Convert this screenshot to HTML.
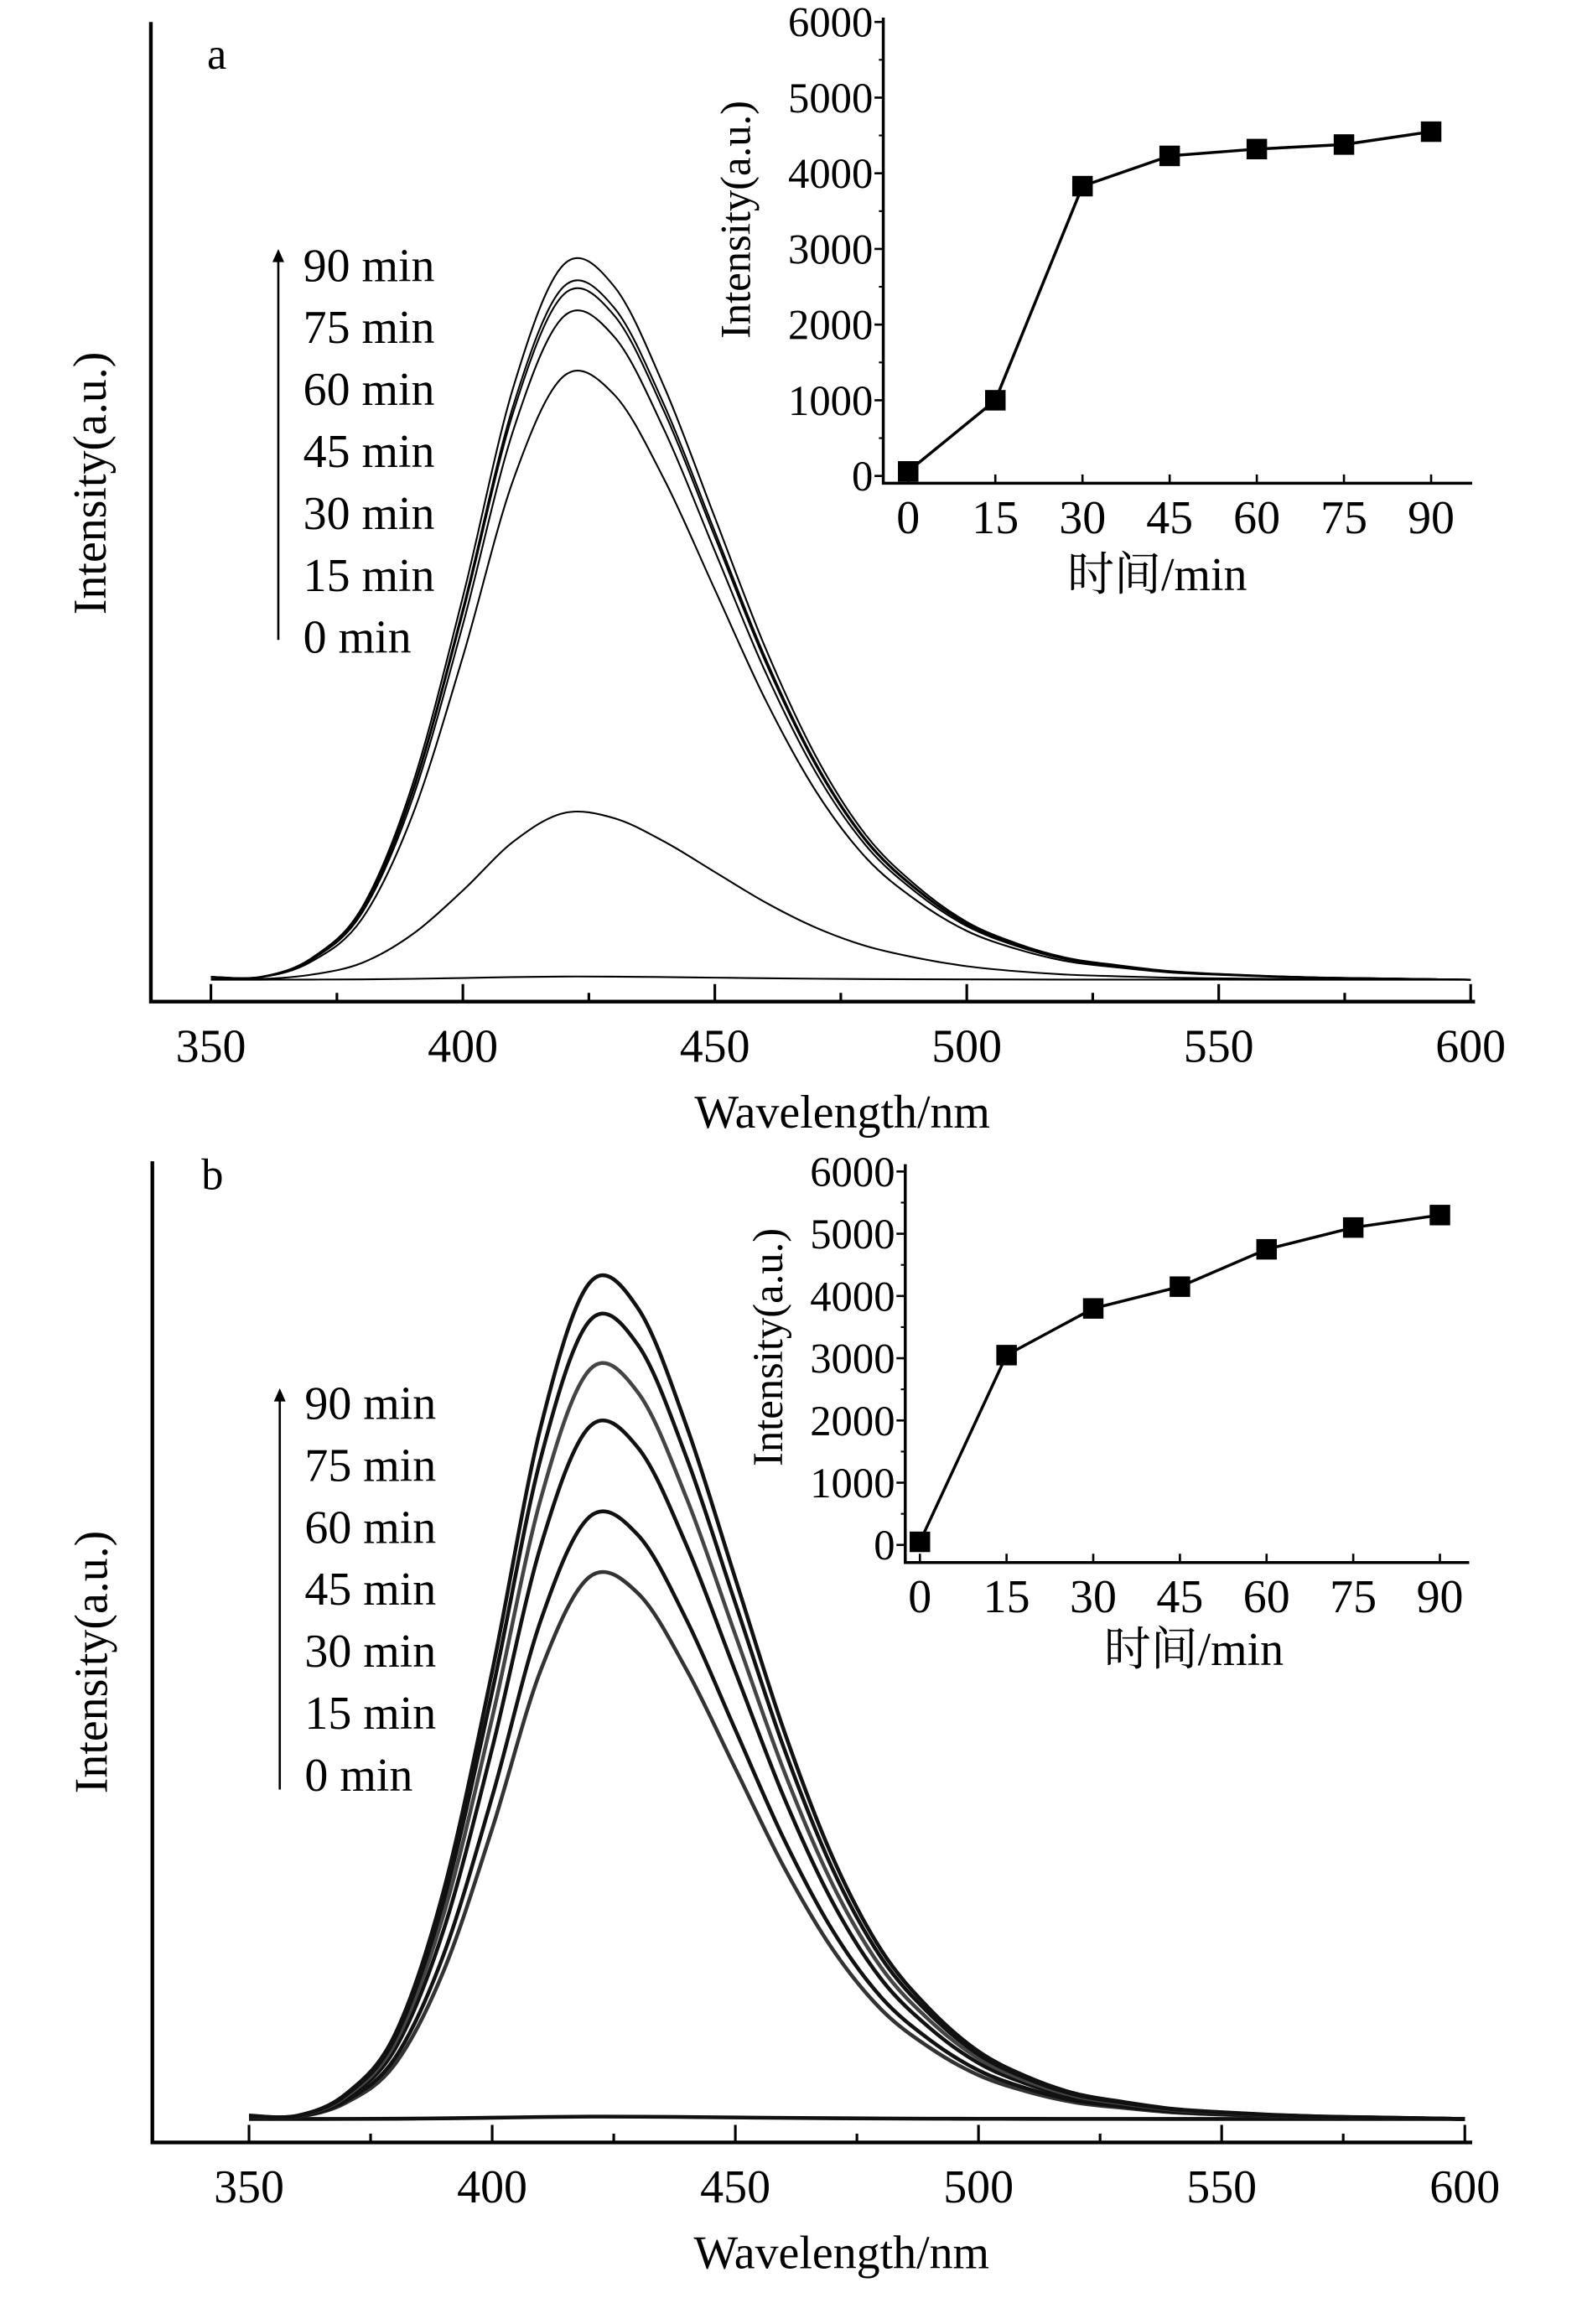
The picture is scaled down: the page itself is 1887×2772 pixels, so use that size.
<!DOCTYPE html>
<html><head><meta charset="utf-8"><style>
html,body{margin:0;padding:0;background:#fff;}
svg{display:block;}
text{font-family:"Liberation Serif","Noto Serif CJK SC","Noto Sans CJK SC",serif;fill:#000;}
</style></head><body>
<svg id="fig" width="1887" height="2772" viewBox="0 0 1080 1587" preserveAspectRatio="none" xmlns="http://www.w3.org/2000/svg"></svg>
<script>
// ---- data ----
const wavelengths = [350,360,370,380,390,400,410,420,430,440,450,460,470,480,490,500,510,520,530,540,550,560,570,580,590,600];
const profile = [0.004,0.004,0.03,0.10,0.27,0.53,0.82,0.99,0.96,0.82,0.64,0.46,0.31,0.20,0.13,0.08,0.05,0.03,0.02,0.012,0.008,0.005,0.003,0.002,0.001,0.0];
const times = [0,15,30,45,60,75,90];
const timeLabels = ["90 min","75 min","60 min","45 min","30 min","15 min","0 min"];
const peaksA = [20,1060,3840,4220,4360,4410,4550];
const peaksB = [15,3430,3810,4380,4740,5050,5290];
const insetA = [60,1000,3830,4230,4320,4380,4550];
const insetB = [50,3050,3800,4150,4750,5100,5300];
const insetYTicks = [0,1000,2000,3000,4000,5000,6000];
const wlTicks = [350,400,450,500,550,600];

const svg = document.getElementById('fig');
const NS = 'http://www.w3.org/2000/svg';
function mk(tag, attrs, parent){const e=document.createElementNS(NS,tag);for(const k in attrs)e.setAttribute(k,attrs[k]);(parent||svg).appendChild(e);return e;}
function txt(s,x,y,size,anchor,parent){const t=mk('text',{x:x,y:y,'font-size':size,'text-anchor':anchor||'middle'},parent);t.textContent=s;return t;}
function smooth(pts){let d='M'+pts[0][0]+','+pts[0][1];for(let i=0;i<pts.length-1;i++){const p0=pts[Math.max(0,i-1)],p1=pts[i],p2=pts[i+1],p3=pts[Math.min(pts.length-1,i+2)];d+=' C'+(p1[0]+(p2[0]-p0[0])/6)+','+(p1[1]+(p2[1]-p0[1])/6)+' '+(p2[0]-(p3[0]-p1[0])/6)+','+(p2[1]-(p3[1]-p1[1])/6)+' '+p2[0]+','+p2[1];}return d;}

function mainPanel(cfg){
  const g=mk('g',{});
  
  
  const X=w=>cfg.x0+(w-350)*(cfg.x1-cfg.x0)/250;
  const Y=v=>cfg.base-v*cfg.k;
  const ax=mk('path',{d:`M${cfg.ax} ${cfg.top} V${cfg.axy} H${cfg.axr}`,stroke:'#000','stroke-width':2.5,fill:'none'},g);
  
  for(let w=350;w<=600;w+=25){const major=w%50===0;mk('line',{x1:X(w),x2:X(w),y1:cfg.axy,y2:cfg.axy-(major?12:6),stroke:'#000','stroke-width':1.8},g);}
  wlTicks.forEach(w=>{const t=txt(w,X(w),cfg.axy+41,32,'middle',g);});
  const xt=txt('Wavelength/nm',(cfg.ax+cfg.axr)/2+20,cfg.axy+86,32,'middle',g);
  
  const yt=txt('Intensity(a.u.)',0,0,32,'middle',g);yt.setAttribute('transform',`translate(${cfg.ax-31},${cfg.ylabY}) rotate(-90)`);
  
  const pl=txt(cfg.letter,cfg.letX,cfg.letY,30,'middle',g);
  cfg.peaks.forEach((p,i)=>{
    const pts=wavelengths.map((w,j)=>[X(w),Y(p*profile[j]+cfg.floor)]);
    const path=mk('path',{d:smooth(pts),fill:'none',stroke:cfg.colors[i],'stroke-width':cfg.sw},g);
    
    
  });
  const ar=mk('line',{x1:cfg.arX,x2:cfg.arX,y1:cfg.arB,y2:cfg.arT+8,stroke:'#000','stroke-width':1.5},g);
  
  mk('path',{d:`M${cfg.arX-4} ${cfg.arT+9} L${cfg.arX} ${cfg.arT} L${cfg.arX+4} ${cfg.arT+9}Z`,fill:'#000'},g);
  timeLabels.forEach((s,i)=>{const t=txt(s,cfg.arX+17,cfg.labY0+i*42.3,32,'start',g);});
}

function inset(cfg){
  const g=mk('g',{});
  
  
  const X=t=>cfg.x0+t*(cfg.x90-cfg.x0)/90;
  const Y=v=>cfg.y0-v*(cfg.y0-cfg.y6000)/6000;
  const ax=mk('path',{d:`M${cfg.ax} ${cfg.top} V${cfg.axy} H${cfg.axr}`,stroke:'#000','stroke-width':2,fill:'none'},g);
  
  insetYTicks.forEach(v=>{mk('line',{x1:cfg.ax-6,x2:cfg.ax,y1:Y(v),y2:Y(v),stroke:'#000','stroke-width':1.5},g);
    const t=txt(v,cfg.ax-7,Y(v)+10,29,'end',g);});
  for(let v=500;v<6000;v+=1000)mk('line',{x1:cfg.ax-3,x2:cfg.ax,y1:Y(v),y2:Y(v),stroke:'#000','stroke-width':1.2},g);
  times.forEach(t=>{mk('line',{x1:X(t),x2:X(t),y1:cfg.axy,y2:cfg.axy-6,stroke:'#000','stroke-width':1.5},g);
    const l=txt(t,X(t),cfg.axy+34,32,'middle',g);});
  const xt=txt('时间/min',cfg.xlabX,cfg.xlabY,32,'middle',g);
  const yt=txt('Intensity(a.u.)',0,0,29,'middle',g);yt.setAttribute('transform',`translate(${cfg.ylabX},${cfg.ylabY}) rotate(-90)`);
  
  const ln=mk('polyline',{points:times.map((t,i)=>X(t)+','+Y(cfg.vals[i])).join(' '),fill:'none',stroke:'#000','stroke-width':2},g);
  
  times.forEach((t,i)=>{const r=mk('rect',{x:X(t)-7,y:Y(cfg.vals[i])-7,width:14,height:14,fill:'#000'},g);
    });
}

mainPanel({name:'panel-a',x0:144,x1:1004,base:669,k:0.1084,floor:0,ax:103,top:15,axy:684,axr:1007,ylabY:330,
  letter:'a',letX:148,letY:47,peaks:peaksA,colors:['#000','#000','#000','#000','#000','#000','#000'],sw:1.2,
  arX:190,arT:170,arB:437,labY0:192});
mainPanel({name:'panel-b',x0:170,x1:1000,base:1447,k:0.109,floor:0,ax:104,top:793,axy:1463,axr:1005,ylabY:1135,
  letter:'b',letX:145,letY:812,peaks:peaksB,colors:['#111','#333','#111','#111','#444','#111','#111'],sw:2.6,
  arX:191,arT:948,arB:1222,labY0:969});
inset({name:'inset-a',x0:620,x90:977,y0:325,y6000:15,ax:603,top:12,axy:330,axr:1005,vals:insetA,
  xlabX:790,xlabY:403,ylabX:512,ylabY:150});
inset({name:'inset-b',x0:628,x90:983,y0:1055,y6000:800,ax:618,top:795,axy:1067,axr:1003,vals:insetB,
  xlabX:815,xlabY:1137,ylabX:534,ylabY:920});
</script>
</body></html>
